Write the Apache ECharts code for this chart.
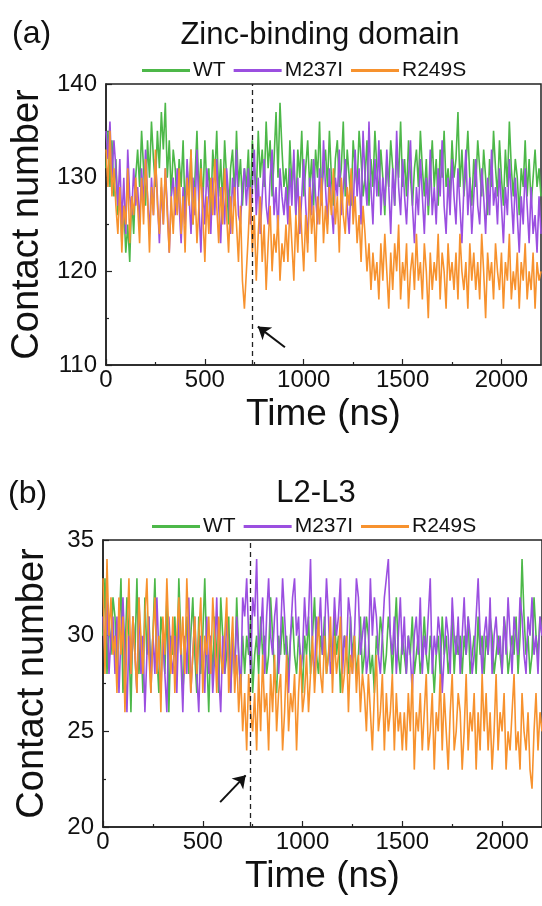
<!DOCTYPE html>
<html><head><meta charset="utf-8">
<script src="https://cdn.jsdelivr.net/npm/echarts@6/dist/echarts.min.js"></script>
<style>html,body{margin:0;padding:0;background:#fff}#c{width:542px;height:906px}</style>
</head><body><div id="c"></div>
<script>
// sampling step of the trajectories (ns)
const timeStep = 10;
const seriesNames = ['WT', 'M237I', 'R249S'];
const panelTitles = ['Zinc-binding domain', 'L2-L3'];
const panelLetters = ['(a)', '(b)'];
const xTickValues = [0, 500, 1000, 1500, 2000];
const eventTime = 740;

// ---- Panel (a): Zinc-binding domain ----
const zincWT = [
131,135,129,134,128,132,
126,129,123,127,122,125,121,128,124,130,
133,129,135,131,127,134,130,136,132,129,135,131,137,133,138,130,134,128,133,131,
127,132,129,134,126,131,128,133,125,130,135,128,132,127,134,129,131,126,133,130,135,128,132,127,134,130,125,131,133,128,135,129,132,127,131,
129,133,127,134,131,128,135,130,133,129,136,131,134,128,132,137,130,138,133,129,
131,127,134,129,132,126,133,130,135,128,
131,134,129,132,127,133,130,136,128,131,
133,129,135,130,127,132,134,129,131,136,
128,133,130,127,134,131,129,135,132,128,
130,134,127,132,129,135,131,128,133,130,
126,132,129,134,131,127,133,130,136,129,
132,128,134,130,127,131,133,129,135,131,
128,132,126,130,134,129,132,127,133,130,
135,129,131,128,134,130,132,137,129,133,
128,131,135,130,127,132,129,134,131,128,
133,130,126,132,129,135,131,128,134,130,
127,133,129,136,131,128,132,130,126,131,
129,134,128,132,127,130,133,129,131,128
];
const zincM237I = [
135,132,136,130,134,131,
127,132,125,130,124,133,128,126,131,127,
129,125,131,127,133,128,124,130,126,132,128,123,129,125,131,127,122,128,130,126,
131,127,123,129,125,132,128,124,130,126,133,127,122,129,125,131,128,124,130,126,132,127,123,129,125,131,128,124,130,127,133,126,125,129,131,
127,131,125,129,133,126,130,124,128,132,127,125,130,133,126,129,124,131,128,126,
129,125,131,127,133,126,130,124,128,132,
127,123,130,126,132,128,125,131,127,134,
129,125,131,127,124,130,128,133,126,129,
132,127,124,130,126,133,128,131,125,135,
130,127,136,129,125,132,128,134,126,130,
127,133,129,124,131,127,135,129,126,132,
128,125,130,134,127,123,129,126,132,128,
124,130,127,133,126,129,125,131,128,134,
127,124,130,126,132,128,125,131,127,123,
129,133,126,130,124,128,132,127,125,131,
128,124,130,126,133,127,129,125,131,127,
123,129,126,132,128,124,130,126,122,128,
125,131,127,123,129,124,126,122,128,124
];
const zincR249S = [
133,129,135,128,131,127,
124,129,122,127,125,131,123,128,126,130,
127,123,130,125,132,128,122,129,126,133,127,124,130,125,131,126,122,128,124,129,
126,131,124,128,122,130,127,133,125,129,123,127,131,126,121,128,124,130,126,132,127,123,129,125,131,126,122,128,124,129,125,121,127,119,116,
120,124,129,122,126,119,124,128,121,125,118,123,127,120,124,122,126,119,123,121,
125,121,127,123,119,126,122,128,124,120,
126,122,129,124,127,121,128,125,130,123,127,124,129,126,131,125,128,122,130,126,124,129,127,131,125,128,123,126,121,127,
124,120,123,118,122,119,
121,117,123,119,124,120,116,122,118,123,
120,125,117,121,119,123,116,120,122,118,
124,119,121,117,123,120,115,122,118,121,
119,124,117,122,120,116,123,119,121,118,
122,117,124,120,118,121,116,123,119,122,
118,121,117,124,120,115,122,119,121,117,
123,120,118,122,116,121,119,124,117,120,
118,122,116,121,119,123,117,120,118,122,
116,121,119,120
];

// ---- Panel (b): L2-L3 ----
const loopWT = [
30,33,28,31,29,32,
31,28,30,33,27,29,32,30,26,31,
29,33,28,30,27,32,29,31,28,30,
33,29,27,31,30,28,32,26,30,29,
31,28,33,30,27,29,31,28,30,32,
29,27,31,28,30,33,29,26,30,28,
31,29,27,32,30,28,29,31,27,30,
28,32,29,27,30,
28,30,29,31,27,29,30,28,31,29,
30,28,29,32,30,28,27,30,29,31,
29,30,28,30,31,29,28,30,29,27,
30,29,31,28,30,32,29,28,30,29,
31,28,29,30,28,31,29,30,27,29,
30,29,28,31,29,30,28,29,31,28,
29,31,30,28,29,27,30,29,31,30,
28,29,31,30,28,30,32,29,28,30,
29,28,30,29,31,28,29,30,28,29,
31,29,28,30,29,27,29,30,28,31,
29,30,28,29,31,28,30,29,30,28,
30,29,31,28,29,30,28,31,29,30,
28,30,29,31,30,28,29,30,29,28,
31,30,28,29,30,29,31,28,30,34,
31,29,30,28,29,32,30,29,31,30
];
const loopM237I = [
31,29,32,28,30,31,
28,31,27,30,32,29,26,30,28,31,
29,27,32,28,30,26,29,31,27,30,
28,32,29,27,30,28,26,31,29,28,
30,27,31,29,26,30,28,32,27,29,
31,28,26,30,29,27,31,28,30,27,
29,32,28,26,30,28,31,29,27,30,
28,31,29,27,32,
31,33,30,28,32,31,34,29,30,32,
28,31,33,30,29,31,32,28,30,33,
31,29,27,30,32,33,30,31,28,29,
32,30,31,34,29,28,31,30,32,29,
30,33,31,28,29,32,30,31,33,28,
30,29,32,31,28,30,33,32,29,30,
31,28,29,33,30,32,31,29,28,30,
32,33,34,30,29,31,28,30,32,29,
31,28,30,29,27,30,31,29,32,28,
30,29,31,33,28,30,29,31,30,27,
29,31,30,28,32,30,29,31,28,30,
32,29,31,30,28,29,31,33,30,28,
30,31,29,32,28,30,31,29,30,28,
31,29,32,30,28,31,30,29,32,31,
29,28,31,30,32,29,30,28,31,30
];
const loopR249S = [
33,28,34,30,32,29,
30,27,32,29,31,26,30,33,28,31,
29,27,32,30,28,31,33,29,27,30,
32,28,30,26,31,29,33,30,28,31,
27,30,32,29,31,28,33,30,27,29,
31,28,30,32,27,30,29,31,28,32,
30,27,31,29,28,30,32,27,29,31,
27,29,26,28,25,27,24,28,26,25,
27,24,28,25,29,26,27,24,28,26,29,25,27,28,24,26,29,25,27,26,28,24,27,29,26,
27,29,26,28,30,27,29,31,28,27,30,28,29,31,27,30,28,29,31,27,28,30,26,29,28,30,27,29,26,28,
27,25,28,26,24,27,29,25,26,28,24,27,25,26,28,24,27,25,26,24,
26,24,27,25,28,23,26,25,27,24,
26,28,24,25,27,23,26,25,28,24,
27,25,23,26,28,24,25,27,26,23,
25,28,24,26,25,27,23,26,24,28,
25,27,24,26,23,25,28,24,26,25,
27,23,25,24,26,28,24,25,23,27,
25,24,26,23,22,25,27,24,26,25
];

// arrows: [tail, head] in data coordinates
const arrowA = [[905, 111.9], [768, 114.1]];
const arrowB = [[587, 21.3], [715, 22.7]];

const colors = ['#4DB849', '#9B4FE0', '#F7922E'];
const FONT = 'Liberation Sans, Arial, sans-serif';

const toPairs = arr => arr.map((v, i) => [i * timeStep, v]);

const panelData = [[zincWT, zincM237I, zincR249S], [loopWT, loopM237I, loopR249S]];
const arrows = [arrowA, arrowB];
const yRanges = [{min: 110, max: 140, interval: 10}, {min: 20, max: 35, interval: 5}];

const grids = [
  {left: 106, top: 84, width: 435, height: 281},
  {left: 103, top: 540, width: 445.5, height: 287}
];

const chart = echarts.init(document.getElementById('c'), null, {renderer: 'canvas'});

const plain = v => String(v);

const xAxes = grids.map((g, i) => ({
  type: 'value', gridIndex: i, min: 0, max: 2200, interval: 500,
  name: 'Time (ns)', nameLocation: 'middle', nameGap: 31,
  nameTextStyle: {fontSize: 37, fontFamily: FONT, color: '#111'},
  axisLine: {show: true, lineStyle: {color: '#222', width: 1.5}},
  axisTick: {show: true, inside: true, length: 6, lineStyle: {color: '#222', width: 1.2},
    customValues: xTickValues},
  minorTick: {show: true, splitNumber: 2, length: 3, lineStyle: {color: '#222', width: 1.2}},
  axisLabel: {fontSize: 24, fontFamily: FONT, color: '#111', margin: 3,
    customValues: xTickValues, formatter: plain},
  splitLine: {show: false}
}));
const yAxes = grids.map((g, i) => ({
  type: 'value', gridIndex: i, min: yRanges[i].min, max: yRanges[i].max, interval: yRanges[i].interval,
  name: 'Contact number', nameLocation: 'middle', nameGap: 51, nameRotate: 90,
  nameTextStyle: {fontSize: 38, fontFamily: FONT, color: '#111'},
  axisLine: {show: true, lineStyle: {color: '#222', width: 1.5}},
  axisTick: {show: true, inside: true, length: 6, lineStyle: {color: '#222', width: 1.2}},
  minorTick: {show: true, splitNumber: 2, length: 3, lineStyle: {color: '#222', width: 1.2}},
  axisLabel: {fontSize: 24, fontFamily: FONT, color: '#111', margin: 9, formatter: plain},
  splitLine: {show: false}
}));

const series = [];
panelData.forEach((set, p) => {
  set.forEach((arr, k) => {
    const s = {
      name: seriesNames[k], type: 'line', xAxisIndex: p, yAxisIndex: p,
      data: toPairs(arr), showSymbol: false, symbol: 'none',
      lineStyle: {width: 1.6, color: colors[k]}, itemStyle: {color: colors[k]},
      animation: false, silent: true, z: 2 + k
    };
    if (k === 2) {
      s.markLine = {
        silent: true, symbol: 'none', animation: false, label: {show: false},
        lineStyle: {color: '#222', type: [5, 4], width: 1.3},
        data: [{xAxis: eventTime}]
      };
    }
    if (k === 1) {
      const a = arrows[p];
      s.markLine = {
        silent: true, symbol: ['none', 'arrow'], symbolSize: 12, animation: false,
        label: {show: false}, lineStyle: {color: '#111', type: 'solid', width: 2},
        itemStyle: {color: '#111'},
        data: [[{coord: a[0]}, {coord: a[1]}]]
      };
    }
    series.push(s);
  });
});

const legends = [
  {left: 142, top: 60},
  {left: 152, top: 516}
].map(pos => ({
  left: pos.left, top: pos.top, data: seriesNames, icon: 'rect',
  itemWidth: 48, itemHeight: 3, itemGap: 8, padding: 0,
  textStyle: {fontSize: 21, fontFamily: FONT, color: '#111', padding: [0, 0, 0, -2]},
  selectedMode: false
}));

const graphic = [
  {type: 'text', left: 12, top: 18, style: {text: panelLetters[0], fontSize: 32, fontFamily: FONT, fill: '#111'}},
  {type: 'text', left: 8, top: 478, style: {text: panelLetters[1], fontSize: 32, fontFamily: FONT, fill: '#111'}},
  {type: 'text', x: 320, y: 35, style: {text: panelTitles[0], fontSize: 31, fontFamily: FONT, fill: '#111', align: 'center', verticalAlign: 'middle'}},
  {type: 'text', x: 316, y: 493, style: {text: panelTitles[1], fontSize: 31, fontFamily: FONT, fill: '#111', align: 'center', verticalAlign: 'middle'}}
];

chart.setOption({
  backgroundColor: '#fff',
  animation: false,
  grid: grids.map(g => Object.assign({show: true, borderColor: '#222', borderWidth: 1.5, backgroundColor: 'transparent', containLabel: false}, g)),
  xAxis: xAxes,
  yAxis: yAxes,
  legend: legends,
  graphic: graphic,
  series: series
});
</script>
</body></html>
